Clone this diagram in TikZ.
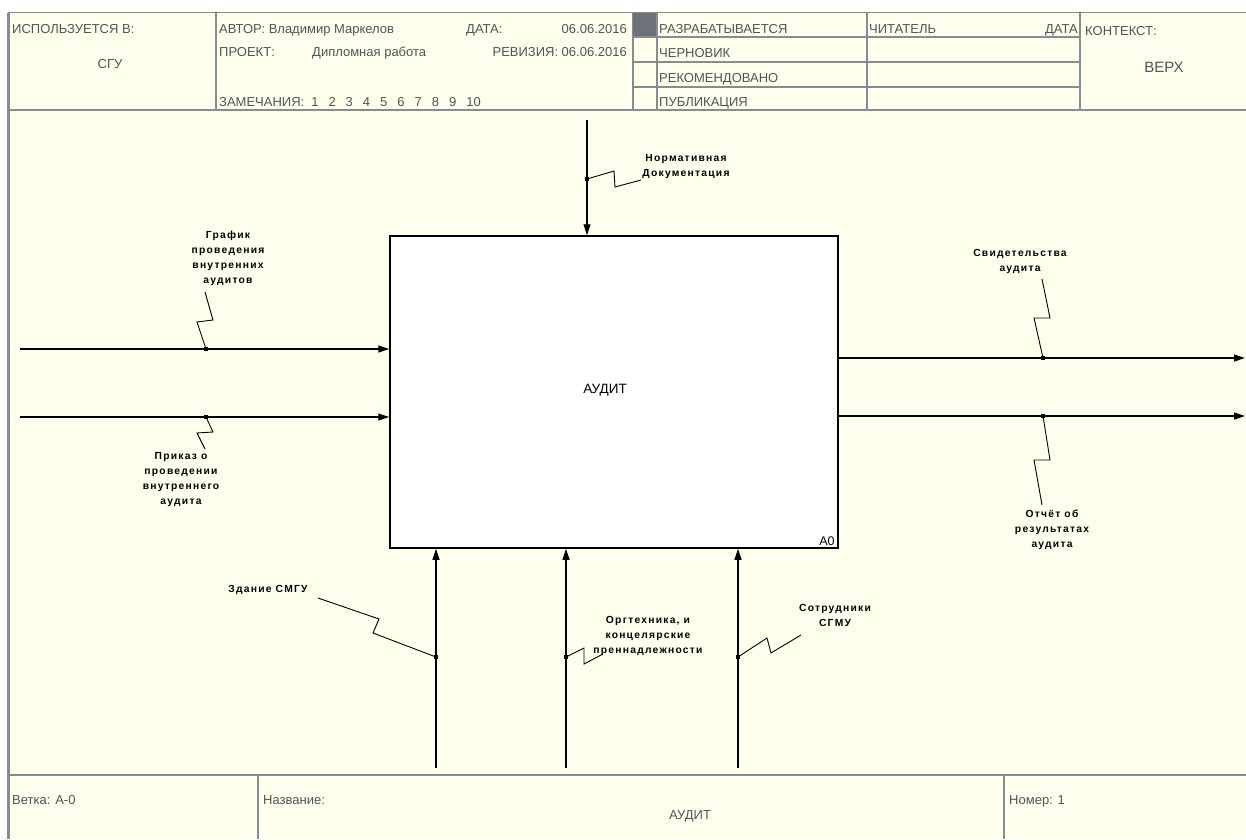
\documentclass[tikz,border=0pt]{standalone}
\usepackage{fontspec}
\setmainfont{Liberation Sans}
\newfontfamily\lblfont[LetterSpace=12]{Liberation Sans}
\usetikzlibrary{arrows.meta}
\definecolor{cream}{RGB}{255,255,238}
\definecolor{frameline}{RGB}{135,140,145}
\definecolor{hdrtext}{RGB}{80,84,88}
\definecolor{graybox}{RGB}{109,114,120}
\begin{document}
\begin{tikzpicture}[x=1pt,y=-1pt,
  hline/.style={draw=frameline,line width=1.2pt},
  hdr/.style={font=\fontsize{13}{15}\selectfont,text=hdrtext,inner sep=0pt},
  lbl/.style={font=\lblfont\bfseries\fontsize{10.3}{15}\selectfont,align=center,inner sep=0pt},
  arr/.style={line width=1.2pt,-{Triangle[length=11pt,width=7pt]}},
  sq/.style={line width=0.9pt},
  dot/.style={rectangle,fill=black,minimum size=4pt,inner sep=0pt},
  funcbox/.style={draw=black,line width=1.5pt,fill=white,minimum width=448pt,minimum height=312pt,inner sep=0pt}]
\useasboundingbox (0,0) rectangle (1246,839);
\fill[white] (0,0) rectangle (1246,839);
\fill[cream] (8,12.5) rectangle (1246,839);
% frame
\draw[draw=frameline,line width=3pt] (8.5,12.5) -- (8.5,839);
\draw[hline] (8,12.5) -- (1246,12.5);
\draw[hline] (8,110) -- (1246,110);
\draw[hline] (216,12.5) -- (216,110);
\draw[hline] (633,12.5) -- (633,110);
\fill[graybox] (633,12.5) rectangle (657,37);
\draw[hline] (657,12.5) -- (657,110);
\draw[hline] (867,12.5) -- (867,110);
\draw[hline] (1080,12.5) -- (1080,110);
\draw[hline] (633,37) -- (1080,37);
\draw[hline] (633,62) -- (1080,62);
\draw[hline] (633,87) -- (1080,87);
% footer
\draw[hline] (8,775) -- (1246,775);
\draw[hline] (258,775) -- (258,839);
\draw[hline] (1004,775) -- (1004,839);
% header texts
\node[hdr,anchor=base west] (h1) at (12,33) {ИСПОЛЬЗУЕТСЯ В:};
\node[hdr,anchor=base] (h2) at (110,68) {СГУ};
\node[hdr,anchor=base west] (h3) at (219,33) {АВТОР: Владимир Маркелов};
\node[hdr,anchor=base west] (h4) at (466,33) {ДАТА:};
\node[hdr,anchor=base east] (h5) at (627,33) {06.06.2016};
\node[hdr,anchor=base west] (h6) at (219,56) {ПРОЕКТ:};
\node[hdr,anchor=base west] (h7) at (312,56) {Дипломная работа};
\node[hdr,anchor=base east] (h8) at (627,56) {РЕВИЗИЯ: 06.06.2016};
\node[hdr,anchor=base west] (h9) at (219,106) {ЗАМЕЧАНИЯ:\hspace{7pt}1\hspace{10pt}2\hspace{10pt}3\hspace{10pt}4\hspace{10pt}5\hspace{10pt}6\hspace{10pt}7\hspace{10pt}8\hspace{10pt}9\hspace{10pt}10};
\node[hdr,anchor=base west] (s1) at (659,33) {РАЗРАБАТЫВАЕТСЯ};
\node[hdr,anchor=base west] (s2) at (659,57) {ЧЕРНОВИК};
\node[hdr,anchor=base west] (s3) at (659,82) {РЕКОМЕНДОВАНО};
\node[hdr,anchor=base west] (s4) at (659,106) {ПУБЛИКАЦИЯ};
\node[hdr,anchor=base west] (r1) at (869,33) {ЧИТАТЕЛЬ};
\node[hdr,anchor=base east] (r2) at (1078,33) {ДАТА};
\node[hdr,anchor=base west] (k1) at (1085,35) {КОНТЕКСТ:};
\node[hdr,anchor=base,font=\fontsize{15}{17}\selectfont] (k2) at (1164,72) {ВЕРХ};
\node[hdr,anchor=base west] (f1) at (12,804) {Ветка: А-0};
\node[hdr,anchor=base west] (f2) at (263,804) {Название:};
\node[hdr,anchor=base] (f3) at (690,819) {АУДИТ};
\node[hdr,anchor=base west] (f4) at (1009,804) {Номер: 1};
% main box
\node[funcbox] (A0) at (614,392) {};
\node[font=\fontsize{13.5}{15}\selectfont,inner sep=0pt] (A0t) at (605,390) {АУДИТ};
\node[font=\fontsize{12.5}{14}\selectfont,anchor=south east,inner sep=0pt] (A0n) at ([xshift=-4pt,yshift=3pt]A0.south east) {A0};
% inputs
\coordinate (i1s) at (20,349);
\coordinate (i2s) at (20,417);
\draw[arr] (i1s) -- (A0.west |- i1s);
\draw[arr] (i2s) -- (A0.west |- i2s);
\node[dot] (di1) at (206,349) {};
\node[dot] (di2) at (206,417) {};
\node[lbl] (li1) at (228,258) {График\\проведения\\внутренних\\аудитов};
\node[lbl] (li2) at (181,480) {Приказ о\\проведении\\внутреннего\\аудита};
\coordinate (ti1) at (205,292);
\coordinate (ti2) at (205,449);
\draw[sq] (di1.center) -- (197,322) -- (213,320) -- (ti1);
\draw[sq] (di2.center) -- (213,432) -- (197,433) -- (ti2);
% control
\coordinate (c1s) at (587,120);
\draw[arr] (c1s) -- (c1s |- A0.north);
\node[dot] (dc1) at (587,179) {};
\node[lbl] (lc1) at (686,167) {Нормативная\\Документация};
\coordinate (tc1) at (641,180);
\draw[sq] (dc1.center) -- (614,171) -- (615,187) -- (tc1);
% outputs
\coordinate (o1e) at (1245,358);
\coordinate (o2e) at (1245,416);
\draw[arr] (A0.east |- o1e) -- (o1e);
\draw[arr] (A0.east |- o2e) -- (o2e);
\node[dot] (do1) at (1043,358) {};
\node[dot] (do2) at (1043,416) {};
\node[lbl] (lo1) at (1020,261) {Свидетельства\\аудита};
\node[lbl] (lo2) at (1052,530) {Отчёт об\\результатах\\аудита};
\coordinate (to1) at (1042,279);
\coordinate (to2) at (1042,505);
\draw[sq] (do1.center) -- (1034,318) -- (1050,318) -- (to1);
\draw[sq] (do2.center) -- (1050,460) -- (1034,460) -- (to2);
% mechanisms
\coordinate (m1s) at (436,768);
\coordinate (m2s) at (566,768);
\coordinate (m3s) at (738,768);
\draw[arr] (m1s) -- (m1s |- A0.south);
\draw[arr] (m2s) -- (m2s |- A0.south);
\draw[arr] (m3s) -- (m3s |- A0.south);
\node[dot] (dm1) at (436,657) {};
\node[dot] (dm2) at (566,657) {};
\node[dot] (dm3) at (738,657) {};
\node[lbl] (lm1) at (268,590) {Здание СМГУ};
\node[lbl] (lm2) at (648,636) {Оргтехника, и\\концелярские\\преннадлежности};
\node[lbl] (lm3) at (835,615) {Сотрудники\\СГМУ};
\coordinate (tm1) at (318,598);
\coordinate (tm2) at (603,654);
\coordinate (tm3) at (801,635);
\draw[sq] (dm1.center) -- (373,633) -- (379,619) -- (tm1);
\draw[sq] (dm2.center) -- (584,648) -- (584,664) -- (tm2);
\draw[sq] (dm3.center) -- (767,638) -- (771,653) -- (tm3);
\end{tikzpicture}
\end{document}
